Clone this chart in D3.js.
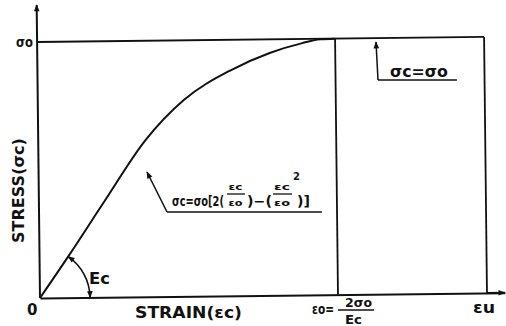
<!DOCTYPE html>
<html>
<head>
<meta charset="utf-8">
<script src="https://cdn.jsdelivr.net/npm/d3@7"></script>
<style>
  body { margin: 0; background: #fff; }
  text { font-family: "DejaVu Sans", sans-serif; font-weight: bold; fill: #111; }
</style>
</head>
<body>
<svg id="chart" width="506" height="326"></svg>
<script>
// stress-strain curve, normalised: strain / eps0, stress / sig0
const strain = [0, 0.10, 0.22, 0.36, 0.49, 0.65, 0.78, 0.89, 0.95, 1.0]
const stress = [0, 0.167, 0.375, 0.612, 0.767, 0.882, 0.947, 0.984, 0.998, 1.0]
const epsU = 1.5        // ultimate strain
const plateau = 1.0     // sig_c = sig_0 beyond eps0
const xMax = 1.56       // axis arrow ends
const yMax = 1.145

const svg = d3.select('#chart')
const x = d3.scaleLinear().domain([0, 1]).range([40, 338])
const y = d3.scaleLinear().domain([0, 1]).range([298, 42])

const defs = svg.append('defs')
defs.append('marker')
  .attr('id', 'arr')
  .attr('viewBox', '0 0 10 10')
  .attr('refX', 9).attr('refY', 5)
  .attr('markerWidth', 9).attr('markerHeight', 7)
  .attr('markerUnits', 'userSpaceOnUse')
  .attr('orient', 'auto-start-reverse')
  .append('path').attr('d', 'M0,1 L10,5 L0,9 Z').attr('fill', '#111')

// scan is tilted a little, tilt the frame with it
const g = svg.append('g').attr('transform', 'rotate(-0.65, 40, 298)')

// axes (no ticks, only the lines + arrowheads)
const xAxisScale = x.copy().domain([0, xMax]).range([x(0), x(xMax)])
g.append('g')
  .attr('transform', `translate(0,${y(0)})`)
  .call(d3.axisBottom(xAxisScale).tickValues([]).tickSizeOuter(0))
  .select('.domain').attr('stroke-width', 2).attr('stroke', '#111')
g.append('line')
  .attr('x1', x(1.5)).attr('x2', x(xMax)).attr('y1', y(0)).attr('y2', y(0))
  .attr('stroke', '#111').attr('stroke-width', 2).attr('marker-end', 'url(#arr)')
g.append('line')
  .attr('x1', x(0)).attr('x2', x(0)).attr('y1', y(0)).attr('y2', y(yMax))
  .attr('stroke', '#111').attr('stroke-width', 2).attr('marker-end', 'url(#arr)')

// sig0 level and verticals at eps0, epsU
g.append('line')
  .attr('x1', x(0)).attr('x2', x(epsU)).attr('y1', y(plateau)).attr('y2', y(plateau))
  .attr('stroke', '#111').attr('stroke-width', 1.8)
;[1, epsU].forEach(v => {
  g.append('line')
    .attr('x1', x(v)).attr('x2', x(v)).attr('y1', y(0)).attr('y2', y(plateau))
    .attr('stroke', '#111').attr('stroke-width', 1.8)
})

// the curve
const line = d3.line()
  .x(d => x(d[0])).y(d => y(d[1]))
  .curve(d3.curveMonotoneX)
g.append('path')
  .datum(d3.zip(strain, stress))
  .attr('d', line)
  .attr('fill', 'none').attr('stroke', '#111').attr('stroke-width', 2)

// Ec angle arc
const r = 50
const ang = Math.atan2(y(0) - y(stress[1]), x(strain[1]) - x(0))
g.append('path')
  .attr('d', `M${x(0) + r},${y(0)} A${r},${r} 0 0 0 ${x(0) + r * Math.cos(ang)},${y(0) - r * Math.sin(ang)}`)
  .attr('fill', 'none').attr('stroke', '#111').attr('stroke-width', 1.6)
  .attr('marker-start', 'url(#arr)').attr('marker-end', 'url(#arr)')

// labels; squeeze to a target width with a horizontal scale
function txt (s, px, py, size, len, rot) {
  const t = svg.append('text').attr('font-size', size).text(s)
  const w = t.node().getComputedTextLength()
  const sx = len ? len / w : 1
  t.attr('transform', `translate(${px},${py})${rot ? ' rotate(' + rot + ')' : ''} scale(${sx},1)`)
  return t
}
function hline (x1, x2, yy, w) {
  svg.append('line').attr('x1', x1).attr('x2', x2).attr('y1', yy).attr('y2', yy)
    .attr('stroke', '#111').attr('stroke-width', w || 1.5)
}

txt('σo', 16, 47, 14, 17)
txt('0', 27, 315, 15)
txt('STRAIN(εc)', 135, 318, 16, 107)
txt('Ec', 89, 284, 15, 21)
txt('εu', 473, 313, 15, 22)
txt('STRESS(σc)', 24, 243, 15, 105, -90)

// eps0 = 2 sig0 / Ec
txt('εo=', 312, 314, 14, 22)
txt('2σo', 345, 307, 12, 27)
hline(338, 374, 310, 1.4)
txt('Ec', 345, 324, 12, 17)

// formula annotation
txt('σc=σo[2(', 172, 206, 14, 52)
txt('εc', 228.5, 190, 9.5, 14)
hline(227, 245, 194, 1.3)
txt('εo', 228.5, 206, 9.5, 14)
txt(')−(', 247, 206, 14, 25)
txt('εc', 274, 190, 9.5, 16)
hline(273, 292, 194, 1.3)
txt('εo', 274, 206, 9.5, 16)
txt('2', 293, 180, 10)
txt(')]', 297, 206, 14, 13)
hline(167, 322, 212)
svg.append('line')
  .attr('x1', 167).attr('y1', 212).attr('x2', 147).attr('y2', 172)
  .attr('stroke', '#111').attr('stroke-width', 1.5).attr('marker-end', 'url(#arr)')

// plateau annotation
txt('σc=σo', 390, 77, 15, 58)
hline(378, 457, 80)
svg.append('line')
  .attr('x1', 378).attr('y1', 80).attr('x2', 376).attr('y2', 42)
  .attr('stroke', '#111').attr('stroke-width', 1.5).attr('marker-end', 'url(#arr)')
</script>
</body>
</html>
